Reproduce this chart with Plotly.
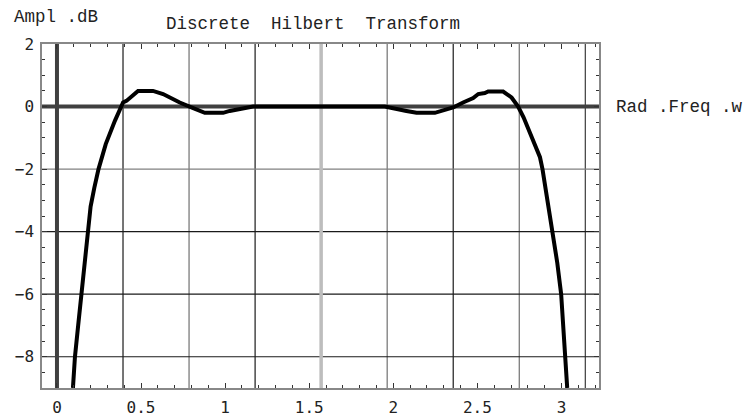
import math
import plotly.graph_objects as go

# ---- data ----
freq = [0.095, 0.107, 0.126, 0.145, 0.165, 0.181, 0.200, 0.222, 0.247, 0.290,
        0.324, 0.345, 0.393, 0.413, 0.482, 0.571, 0.631, 0.730, 0.810, 0.879,
        0.988, 1.027, 1.166, 1.949, 2.078, 2.138, 2.247, 2.356, 2.415, 2.475,
        2.505, 2.544, 2.564, 2.653, 2.703, 2.742, 2.775, 2.815, 2.835, 2.872,
        2.887, 2.915, 2.935, 2.949, 2.975, 2.998, 3.012, 3.024, 3.034]
ampl_db = [-9.0, -8.0, -7.0, -6.0, -5.0, -4.0, -3.2, -2.6, -2.0, -1.2,
           -0.7, -0.45, 0.13, 0.18, 0.5, 0.5, 0.4, 0.13, -0.05, -0.2,
           -0.2, -0.14, 0.0, 0.0, -0.14, -0.2, -0.2, -0.03, 0.13, 0.27,
           0.4, 0.43, 0.48, 0.48, 0.29, 0.0, -0.35, -0.85, -1.1, -1.62,
           -2.0, -3.0, -3.6, -4.0, -5.0, -6.0, -7.0, -8.0, -9.0]

x_ticks = [0, 0.5, 1, 1.5, 2, 2.5, 3]
x_tick_text = ["0", "0.5", "1", "1.5", "2", "2.5", "3"]
y_ticks = [-8, -6, -4, -2, 0, 2]
y_tick_text = ["\u22128", "\u22126", "\u22124", "\u22122", "0", "2"]

title_text = "Discrete\u00a0\u00a0Hilbert\u00a0\u00a0Transform"
y_label = "Ampl\u00a0.dB"
x_label = "Rad\u00a0.Freq\u00a0.w"

X_RANGE = [-0.089, 3.223]
Y_RANGE = [-9.0, 2.0]

MONO = "Liberation Mono, Courier New, monospace"
TICKFONT = "DejaVu Sans Mono, monospace"

fig = go.Figure()
fig.add_trace(go.Scatter(x=freq, y=ampl_db, mode="lines",
                         line=dict(color="black", width=4),
                         hoverinfo="skip", showlegend=False))

shapes = []
# vertical grid lines at multiples of pi/8
vcolors = {1: "#1a1a1a", 2: "#707070", 3: "#1a1a1a", 5: "#707070",
           6: "#1a1a1a", 7: "#707070", 8: "#3a3a3a"}
for k, c in vcolors.items():
    xv = k * math.pi / 8
    shapes.append(dict(type="line", xref="x", yref="paper", x0=xv, x1=xv,
                       y0=0, y1=1, line=dict(color=c, width=1.2), layer="below"))
hcolors = {-2: "#808080", -4: "#1a1a1a", -6: "#1a1a1a", -8: "#1a1a1a"}
for yv, c in hcolors.items():
    shapes.append(dict(type="line", xref="paper", yref="y", x0=0, x1=1,
                       y0=yv, y1=yv, line=dict(color=c, width=1.2), layer="below"))
# pi/2 light line
shapes.append(dict(type="line", xref="x", yref="paper", x0=math.pi / 2,
                   x1=math.pi / 2, y0=0, y1=1,
                   line=dict(color="#bdbdbd", width=3.5), layer="below"))
# axes through origin
shapes.append(dict(type="line", xref="x", yref="paper", x0=0, x1=0, y0=0, y1=1,
                   line=dict(color="#404040", width=4), layer="below"))
shapes.append(dict(type="line", xref="paper", yref="y", x0=0, x1=1, y0=0, y1=0,
                   line=dict(color="#404040", width=4), layer="below"))

W, H = 745, 420
ML, MR, MT, MB = 42, 146, 44, 32
PW, PH = W - ML - MR, H - MT - MB


def px_to_paper_x(px):
    return (px - ML) / PW


def px_to_paper_y(py):
    return 1 - (py - MT) / PH


annotations = [
    dict(text=title_text, xref="paper", yref="paper",
         x=px_to_paper_x(313), y=px_to_paper_y(24), xanchor="center",
         yanchor="middle", showarrow=False,
         font=dict(family=MONO, size=17.5, color="#222")),
    dict(text=y_label, xref="paper", yref="paper",
         x=px_to_paper_x(12), y=px_to_paper_y(17), xanchor="left",
         yanchor="middle", showarrow=False,
         font=dict(family=MONO, size=17.5, color="#222")),
    dict(text=x_label, xref="paper", yref="y",
         x=px_to_paper_x(614), y=0, xanchor="left", yanchor="middle",
         showarrow=False, font=dict(family=MONO, size=17.5, color="#222")),
]

fig.update_layout(
    width=W, height=H,
    margin=dict(l=ML, r=MR, t=MT, b=MB, pad=0, autoexpand=False),
    paper_bgcolor="white", plot_bgcolor="white",
    shapes=shapes, annotations=annotations,
    xaxis=dict(range=X_RANGE, showgrid=False, zeroline=False, automargin=False,
               tickmode="array", tickvals=x_ticks, ticktext=x_tick_text,
               ticks="inside", ticklen=5, tickwidth=1.2, tickcolor="#333",
               showline=True, linecolor="#888", linewidth=1.5, mirror="ticks",
               minor=dict(dtick=0.1, tick0=0, ticks="inside", ticklen=3,
                          tickwidth=1, tickcolor="#333", showgrid=False),
               tickfont=dict(family=TICKFONT, size=16, color="#222"),
               ticklabelstandoff=4,
               fixedrange=True),
    yaxis=dict(range=Y_RANGE, showgrid=False, zeroline=False, automargin=False,
               tickmode="array", tickvals=y_ticks, ticktext=y_tick_text,
               ticks="inside", ticklen=5, tickwidth=1.2, tickcolor="#333",
               showline=True, linecolor="#888", linewidth=1.5, mirror="ticks",
               minor=dict(dtick=0.5, tick0=0, ticks="inside", ticklen=3,
                          tickwidth=1, tickcolor="#333", showgrid=False),
               tickfont=dict(family=TICKFONT, size=16, color="#222"),
               ticklabelstandoff=3,
               fixedrange=True),
)

fig.write_html("out.html")
